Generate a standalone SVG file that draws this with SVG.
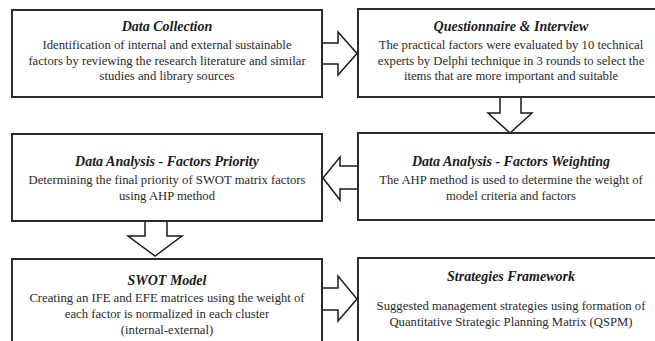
<svg xmlns="http://www.w3.org/2000/svg" width="655" height="341" viewBox="0 0 655 341">
  <style>
    .box { fill: #ffffff; stroke: #2b2b2b; stroke-width: 2; }
    .arrow { fill: #ffffff; stroke: #1a1a1a; stroke-width: 1.5; stroke-linejoin: miter; }
    .title { font-family: "Liberation Serif", "Times New Roman", Times, serif; font-size: 14px; font-weight: bold; font-style: italic; fill: #1a1a1a; text-anchor: middle; }
    .body { font-family: "Liberation Serif", "Times New Roman", Times, serif; font-size: 12.7px; fill: #2a2a2a; text-anchor: middle; }
  </style>
  <rect width="655" height="341" fill="#ffffff"/>

  <g id="connectors">
    <path class="arrow" d="M322,43 H338 V32 L357,53.5 L338,75 V64 H322"/>
    <path class="arrow" d="M500,97 V113 H488 L510,133 L532,113 H521 V97"/>
    <path class="arrow" d="M358,166 H340 V157 L323,178 L340,200 V189 H358"/>
    <path class="arrow" d="M145,221 V236 H128 L155,256 L182,236 H167 V221"/>
    <path class="arrow" d="M322,288 H338 V276 L357,299 L338,321 V310 H322"/>
  </g>

  <g id="data-collection">
    <rect class="box" x="12" y="10" width="310" height="87"/>
    <text class="title" x="167" y="31">Data Collection</text>
    <text class="body" x="167" y="49">Identification of internal and external sustainable</text>
    <text class="body" x="167" y="65">factors by reviewing the research literature and similar</text>
    <text class="body" x="167" y="80">studies and library sources</text>
  </g>

  <g id="questionnaire-interview">
    <rect class="box" x="358" y="9" width="310" height="88"/>
    <text class="title" x="511" y="31">Questionnaire &amp; Interview</text>
    <text class="body" x="511" y="49">The practical factors were evaluated by 10 technical</text>
    <text class="body" x="511" y="65">experts by Delphi technique in 3 rounds to select the</text>
    <text class="body" x="511" y="80">items that are more important and suitable</text>
  </g>

  <g id="factors-weighting">
    <rect class="box" x="358" y="133" width="310" height="87"/>
    <text class="title" x="511" y="166">Data Analysis - Factors Weighting</text>
    <text class="body" x="511" y="184">The AHP method is used to determine the weight of</text>
    <text class="body" x="511" y="200">model criteria and factors</text>
  </g>

  <g id="factors-priority">
    <rect class="box" x="12" y="134" width="310" height="87"/>
    <text class="title" x="167" y="166">Data Analysis - Factors Priority</text>
    <text class="body" x="167" y="184">Determining the final priority of SWOT matrix factors</text>
    <text class="body" x="167" y="200">using AHP method</text>
  </g>

  <g id="swot-model">
    <rect class="box" x="12" y="259" width="310" height="100"/>
    <text class="title" x="167" y="285">SWOT Model</text>
    <text class="body" x="167" y="302">Creating an IFE and EFE matrices using the weight of</text>
    <text class="body" x="167" y="318">each factor is normalized in each cluster</text>
    <text class="body" x="167" y="334">(internal-external)</text>
  </g>

  <g id="strategies-framework">
    <rect class="box" x="358" y="258" width="310" height="100"/>
    <text class="title" x="511" y="281">Strategies Framework</text>
    <text class="body" x="511" y="310">Suggested management strategies using formation of</text>
    <text class="body" x="511" y="326">Quantitative Strategic Planning Matrix (QSPM)</text>
  </g>
</svg>
